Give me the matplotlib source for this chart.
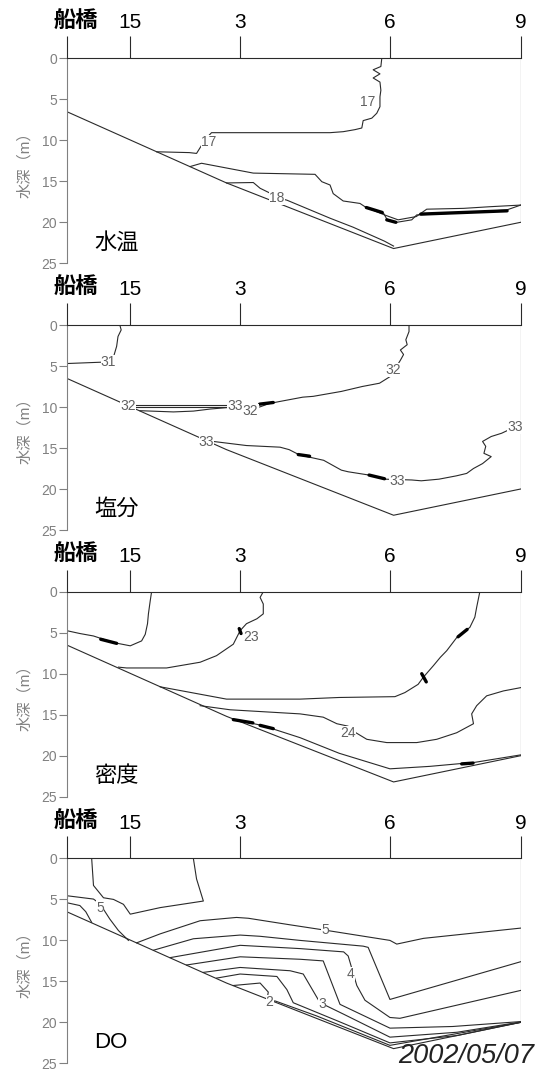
import numpy as np
import matplotlib.pyplot as plt
from matplotlib.transforms import ScaledTranslation

plt.rcParams['font.family'] = ['Liberation Sans', 'Noto Sans CJK JP']

# stations along the transect (relative distance, 0-10)
station_names = ['船橋', '15', '3', '6', '9']
station_km = [0.0, 1.40, 3.81, 7.12, 10.0]
depth_ticks = [0, 5, 10, 15, 20, 25]

# sea bottom profile
bottom_km = [0.0, 3.52, 7.2, 10.0]
bottom_depth = [6.5, 15.2, 23.2, 20.0]

# ---- 水温 (water temperature) contours: (distance, depth)
wt_17_upper = [(6.94, 0.0), (6.92, 1.0), (6.75, 1.4), (6.90, 1.9), (6.75, 2.4), (6.90, 2.9),
               (6.92, 3.9), (6.90, 4.7), (6.90, 5.9), (6.83, 6.7), (6.72, 7.3), (6.53, 7.6),
               (6.50, 8.5), (6.35, 8.7), (6.09, 8.95), (5.80, 9.07), (3.19, 9.07), (3.05, 9.9),
               (2.95, 10.8), (2.86, 11.6), (2.70, 11.5), (1.98, 11.4)]
wt_17_lower = [(2.72, 13.2), (2.97, 12.8), (4.11, 14.0), (5.47, 14.15), (5.62, 15.05),
               (5.80, 15.45), (5.87, 16.5), (6.09, 17.4), (6.46, 17.7), (6.57, 18.1),
               (6.98, 18.9), (7.05, 19.6), (7.27, 20.0), (7.60, 19.7), (7.71, 19.1),
               (8.50, 18.9), (9.69, 18.5), (10.0, 17.9)]
wt_17_band = [(6.60, 18.2), (7.00, 19.1), (7.30, 19.7), (7.70, 19.3), (7.93, 18.4),
              (8.74, 18.3), (9.32, 18.1), (10.0, 17.9)]
wt_18 = [(3.52, 15.2), (4.11, 15.15), (4.26, 15.85), (4.50, 16.5), (4.63, 17.0), (4.85, 17.3),
         (5.80, 19.5), (6.31, 20.6), (7.00, 22.3), (7.20, 22.9)]
wt_dense = [[(6.60, 18.2), (6.95, 18.8)], [(7.05, 19.7), (7.25, 20.0)],
            [(7.80, 19.0), (9.70, 18.6)]]
wt_labels = [('17', 6.64, 5.3), ('17', 3.12, 10.2), ('18', 4.63, 17.0)]

# ---- 塩分 (salinity)
sal_31 = [(1.17, 0.0), (1.20, 0.6), (1.13, 1.4), (1.10, 2.6), (1.02, 4.1), (0.95, 4.5),
          (0.70, 4.55), (0.0, 4.7)]
sal_32 = [(7.54, 0.0), (7.54, 0.8), (7.47, 1.8), (7.50, 2.4), (7.35, 3.05), (7.42, 3.6),
          (7.35, 4.3), (7.25, 5.2), (7.12, 6.3), (6.89, 7.1), (6.51, 7.5), (6.05, 8.1),
          (5.43, 8.7), (5.20, 8.8), (4.67, 9.35), (4.45, 9.6), (4.25, 10.0)]
sal_33_top = [(1.50, 9.75), (3.58, 9.75)]
sal_33_mid = [(1.50, 10.05), (3.58, 10.05)]
sal_33_bot = [(1.61, 10.45), (2.35, 10.6), (2.79, 10.5), (3.16, 10.25), (3.58, 10.05)]
sal_33_deep = [(3.08, 14.1), (3.96, 14.7), (4.70, 14.9), (4.90, 15.2), (5.13, 15.85),
               (5.66, 16.5), (6.05, 17.7), (6.20, 17.9), (6.66, 18.3), (7.00, 18.8),
               (7.60, 18.9), (7.81, 19.0), (8.20, 18.8), (8.58, 18.4), (8.81, 18.1),
               (8.96, 17.5), (9.16, 16.9), (9.35, 16.05), (9.19, 15.65), (9.23, 14.8),
               (9.16, 14.2), (9.35, 13.6), (9.58, 13.2), (9.81, 12.6), (10.0, 12.4)]
sal_dense = [[(4.25, 9.65), (4.55, 9.45)], [(6.66, 18.3), (7.00, 18.75)],
             [(5.10, 15.8), (5.35, 16.0)]]
sal_labels = [('31', 0.92, 4.5), ('32', 7.20, 5.5), ('32', 1.36, 9.85), ('33', 3.70, 9.85),
              ('32', 4.05, 10.45), ('33', 3.08, 14.3), ('33', 7.28, 19.0), ('33', 9.87, 12.4)]

# ---- 密度 (density)
den_22 = [(1.87, 0.0), (1.84, 1.1), (1.80, 2.7), (1.78, 3.9), (1.73, 5.2), (1.65, 6.0),
          (1.40, 6.6), (1.03, 6.2), (0.59, 5.4), (0.29, 5.1), (0.0, 4.75)]
den_23 = [(4.33, 0.0), (4.26, 0.7), (4.33, 1.5), (4.33, 2.7), (4.19, 3.3), (3.96, 3.9),
          (3.82, 4.75), (3.67, 6.4), (3.30, 7.8), (2.94, 8.6), (2.20, 9.3), (1.32, 9.3),
          (1.14, 9.2)]
den_235 = [(2.06, 11.6), (3.52, 13.1), (5.14, 13.1), (6.00, 12.9), (7.23, 12.8), (7.45, 12.3),
           (7.74, 11.3), (7.86, 10.4), (8.08, 9.0), (8.23, 8.0), (8.37, 7.2), (8.59, 5.6),
           (8.88, 4.35), (8.99, 3.1), (9.03, 1.9), (9.10, 0.0)]
den_24 = [(2.94, 13.9), (3.60, 14.4), (5.14, 14.9), (5.65, 15.3), (5.95, 16.1), (6.20, 16.4),
          (6.10, 17.2), (6.28, 16.9), (6.61, 18.0), (7.05, 18.4), (7.71, 18.4), (8.15, 18.0),
          (8.59, 17.2), (8.96, 16.1), (8.92, 14.9), (9.03, 13.9), (9.25, 12.7), (9.62, 12.1),
          (10.0, 11.7)]
den_245 = [(3.67, 15.6), (4.30, 16.3), (5.14, 17.8), (6.00, 19.7), (7.12, 21.6), (8.00, 21.3),
           (9.00, 20.8), (10.0, 19.9)]
den_dense = [[(0.75, 5.8), (1.10, 6.3)], [(3.80, 4.5), (3.84, 5.1)], [(7.82, 10.0), (7.92, 11.0)],
             [(8.62, 5.5), (8.82, 4.6)], [(3.67, 15.6), (4.10, 16.0)], [(4.26, 16.3), (4.55, 16.7)],
             [(8.70, 21.0), (8.95, 20.9)]]
den_labels = [('23', 4.05, 5.5), ('24', 6.20, 17.2)]

# ---- DO
do_55 = [(0.55, 0.0), (0.59, 3.3), (0.81, 4.8), (1.03, 5.0), (1.25, 5.6), (1.40, 6.8),
         (2.06, 6.0), (3.01, 5.2), (2.86, 2.5), (2.79, 0.0)]
do_5_left = [(0.0, 4.55), (0.29, 4.75), (0.59, 4.96), (0.70, 5.4), (0.81, 6.2), (0.95, 7.4),
             (1.14, 8.8), (1.36, 10.0)]
do_45_left = [(0.0, 5.4), (0.29, 5.75), (0.42, 6.5), (0.55, 7.8)]
do_5 = [(1.54, 10.3), (2.06, 9.2), (2.94, 7.6), (3.74, 7.2), (4.00, 7.3), (4.92, 8.1),
        (5.69, 8.75), (7.12, 10.0), (7.27, 10.45), (7.86, 9.75), (10.0, 8.5)]
do_45 = [(1.91, 11.2), (2.79, 9.8), (3.82, 9.35), (4.26, 9.5), (5.14, 10.0), (6.53, 10.7),
         (6.64, 10.85), (7.12, 17.2), (10.0, 12.6)]
do_4 = [(2.28, 12.1), (3.82, 10.6), (5.14, 11.0), (6.10, 11.4), (6.20, 11.9), (6.39, 15.5),
        (6.57, 17.3), (7.12, 19.4), (7.34, 19.5), (10.0, 16.1)]
do_35 = [(2.64, 13.0), (3.82, 12.0), (5.14, 12.3), (5.65, 12.5), (6.02, 17.8), (7.12, 20.7),
         (8.50, 20.5), (10.0, 19.9)]
do_3 = [(3.01, 13.9), (3.82, 13.3), (4.92, 13.7), (5.21, 14.1), (5.58, 17.6), (6.10, 19.0),
        (7.12, 21.8), (8.60, 21.2), (10.0, 19.95)]
do_25 = [(3.30, 14.6), (3.82, 14.1), (4.63, 14.4), (4.85, 16.0), (4.99, 17.6), (6.00, 19.9),
         (7.12, 22.5), (8.60, 21.6), (10.0, 19.98)]
do_2 = [(3.67, 15.5), (4.26, 15.2), (4.44, 16.3), (4.41, 17.3), (4.60, 17.4), (5.50, 19.2),
        (7.12, 22.8), (10.0, 20.0)]
do_labels = [('5', 0.73, 6.0), ('5', 5.69, 8.75), ('4', 6.26, 14.1), ('3', 5.62, 17.8),
             ('2', 4.47, 17.5)]

panels = [
    ('水温', [wt_17_upper, wt_17_lower, wt_17_band, wt_18], wt_dense, wt_labels),
    ('塩分', [sal_31, sal_32, sal_33_top, sal_33_mid, sal_33_bot, sal_33_deep], sal_dense, sal_labels),
    ('密度', [den_22, den_23, den_235, den_24, den_245], den_dense, den_labels),
    ('DO', [do_55, do_5_left, do_45_left, do_5, do_45, do_4, do_35, do_3, do_25, do_2], [], do_labels),
]

line_col = '#2a2a2a'
gray = '#808080'

fig = plt.figure(figsize=(5.46, 10.75), dpi=100)
W, H = 546, 1075
left_px, width_px, height_px = 66.7, 454, 205
top_px = [58.3, 325.0, 591.7, 858.4]

for i, (title, lines, dense, labels) in enumerate(panels):
    ax = fig.add_axes([left_px / W, 1 - (top_px[i] + height_px) / H, width_px / W, height_px / H])

    ax.plot(bottom_km, bottom_depth, color=line_col, lw=0.8)
    ax.plot([bottom_km[-1], bottom_km[-1]], [0, bottom_depth[-1]], color=line_col, lw=0.8)

    for ln in lines:
        x, z = np.array(ln).T
        ax.plot(x, z, color=line_col, lw=0.8)
    for seg in dense:
        x, z = np.array(seg).T
        ax.plot(x, z, color='black', lw=2.4, solid_capstyle='round')
    for txt, x, z in labels:
        ax.text(x, z, txt, fontsize=10, color='#606060', ha='center', va='center',
                bbox=dict(fc='white', ec='none', pad=0.1))

    ax.text(0.6, 22.5, title, fontsize=16, ha='left', va='center', color='black')

    ax.set_xlim(0, 10)
    ax.set_ylim(25, 0)
    ax.xaxis.tick_top()
    ax.set_xticks(station_km, station_names)
    ax.tick_params(axis='x', length=15.6, width=0.8, direction='out', labelsize=15,
                   pad=3, color=line_col)
    ax.set_yticks(depth_ticks)
    ax.tick_params(axis='y', length=6, width=0.8, color=gray, labelcolor=gray, labelsize=10, pad=1)
    # 船橋 label: heavier, a little larger and shifted right like the original
    lab = ax.get_xticklabels()[0]
    lab.set_fontweight('bold')
    lab.set_fontsize(16)
    lab.set_transform(lab.get_transform() + ScaledTranslation(0.09, 0, fig.dpi_scale_trans))

    for s in ['right', 'bottom']:
        ax.spines[s].set_visible(False)
    ax.spines['top'].set_color(line_col)
    ax.spines['top'].set_linewidth(0.8)
    ax.spines['left'].set_color(gray)
    ax.spines['left'].set_linewidth(0.8)

    ax.set_ylabel('水深（m）', color=gray, fontsize=11)
    ax.yaxis.set_label_coords(-0.076, 0.5)

fig.text(534 / W, 1 - 1056 / H, '2002/05/07', fontsize=19.5, style='italic',
         ha='right', va='center', color='#222222')

fig.savefig('out.png', dpi=100)
